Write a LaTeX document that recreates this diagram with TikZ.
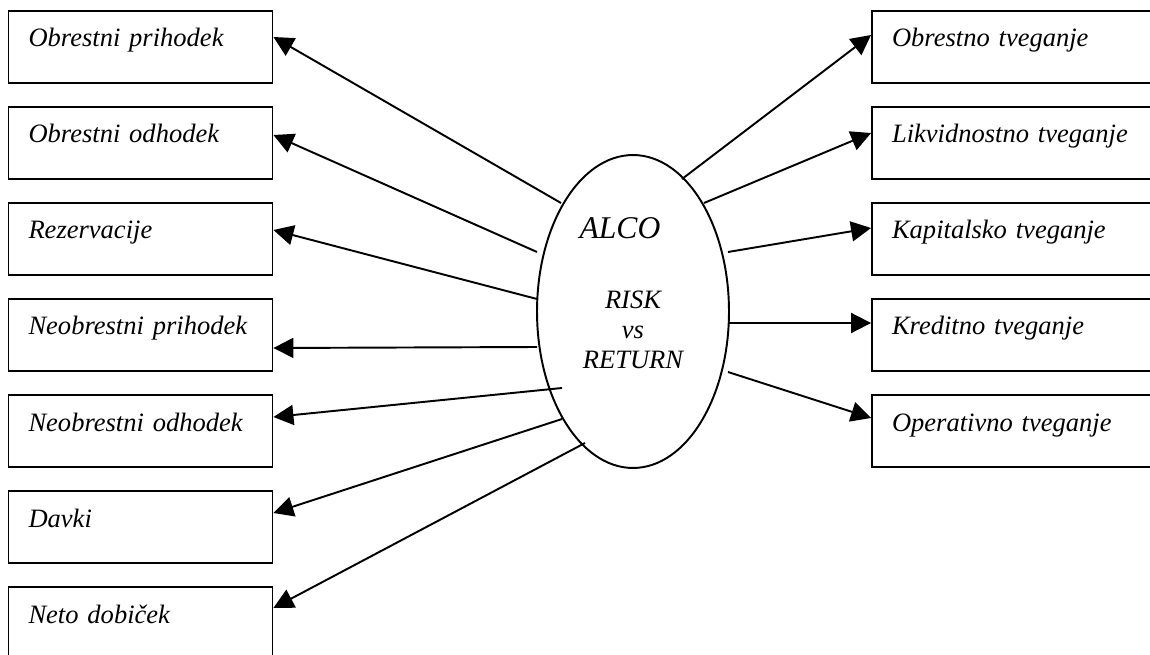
\documentclass[tikz,border=0pt]{standalone}
\usepackage{fontspec}
\setmainfont{Liberation Serif}
\usetikzlibrary{arrows.meta,calc,shapes.geometric}
\tikzset{>={Triangle[length=0.4cm,width=0.4cm]}}
\tikzstyle{item}=[rectangle,draw=black,line width=1.1pt,inner xsep=0.4cm,inner ysep=0pt,text height=0.72cm,text depth=0.72cm,align=left,font=\fontsize{15.1}{17.5}\selectfont\itshape]
\tikzstyle{core}=[ellipse,draw=black,line width=1.1pt,inner sep=0pt,minimum width=3.84cm,minimum height=6.26cm]
\tikzstyle{link}=[->,line width=1.1pt]

\begin{document}
\begin{tikzpicture}[x=0.02cm,y=-0.02cm]
\def \lx {140.5};
\def \rx {1016};
\def \top {47};
\def \gap {96};

\useasboundingbox (0,0) rectangle (1150,655);
\clip (0,0) rectangle (1150,655);

\node[core] (alco) at (633,311.5) {};
\node[font=\fontsize{18}{21}\selectfont\itshape] (alcot) at (620,228) {ALCO};
\node[align=center,font=\fontsize{15.1}{17}\selectfont\itshape] (rr) at (633,330) {RISK\\vs\\RETURN};

% left side: return
\foreach \i/\txt in {1/Obrestni prihodek,2/Obrestni odhodek,3/Rezervacije,4/Neobrestni prihodek,5/Neobrestni odhodek,6/Davki,7/Neto dobiček} {
	\node[item,text width=4.48cm] (l\i) at (\lx, {\top + (\i-1)*\gap}) {\txt};
};

% right side: risk
\foreach \i/\txt in {1/Obrestno tveganje,2/Likvidnostno tveganje,3/Kapitalsko tveganje,4/Kreditno tveganje,5/Operativno tveganje} {
	\node[item,text width=4.96cm] (r\i) at (\rx, {\top + (\i-1)*\gap}) {\txt};
};

\foreach \i/\dx/\dy/\ty in {1/-72/-108.5/-10,2/-96/-59.5/-8,3/-96/-12.5/-9,4/-96/35.5/13,5/-71/76.5/-14,6/-71/107.5/-14,7/-48/131.5/-15} {
	\draw[link] ([shift={(\dx,\dy)}]alco.center) -- ([shift={(0,\ty)}]l\i.east);
};

\foreach \i/\dx/\dy/\ty in {1/49/-132.5/-12,2/71/-108.5/-10,3/95/-59.5/-11,4/96/11.5/-12,5/95/60.5/-13} {
	\draw[link] ([shift={(\dx,\dy)}]alco.center) -- ([shift={(0,\ty)}]r\i.west);
};

\end{tikzpicture}
\end{document}
